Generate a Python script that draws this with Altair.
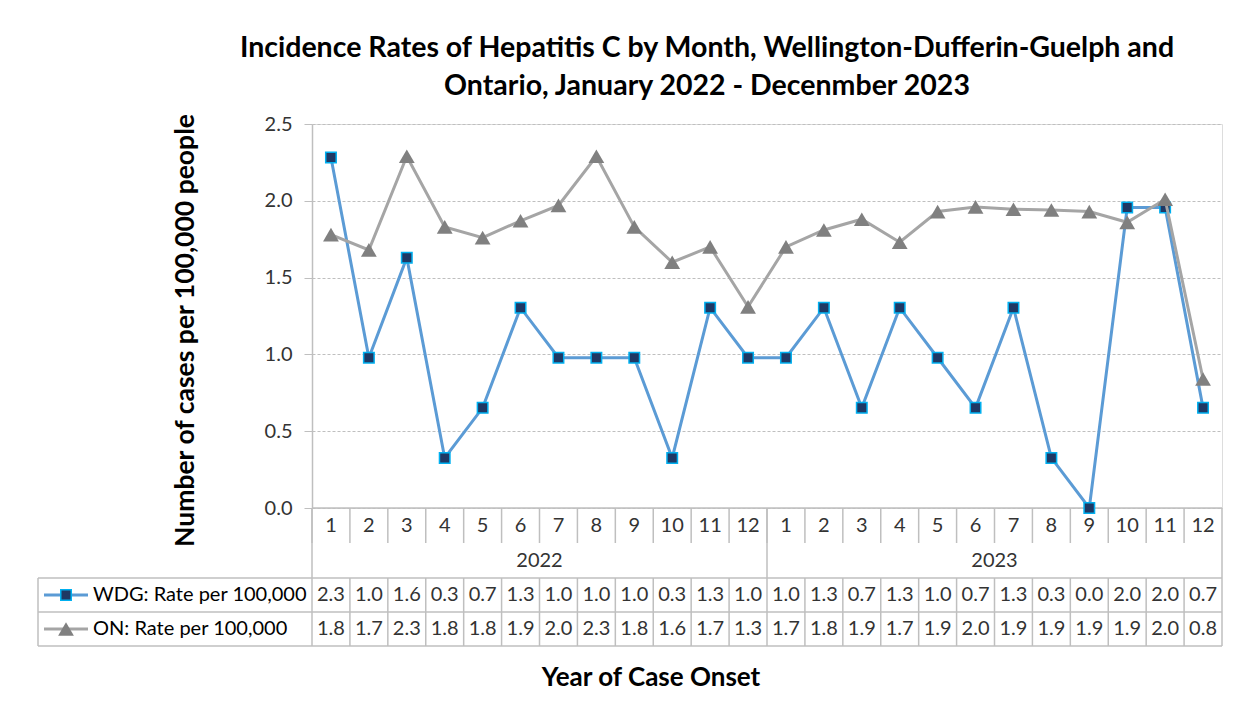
import altair as alt
import pandas as pd

# ---------------- data ----------------
months = [str(m) for m in range(1, 13)] * 2
years = ["2022"] * 12 + ["2023"] * 12
wdg_rate = [2.282, 0.978, 1.630, 0.326, 0.652, 1.304, 0.978, 0.978, 0.978, 0.326, 1.304, 0.978,
            0.978, 1.304, 0.652, 1.304, 0.978, 0.652, 1.304, 0.326, 0.000, 1.956, 1.956, 0.652]
on_rate = [1.78, 1.68, 2.29, 1.83, 1.76, 1.87, 1.97, 2.29, 1.83, 1.60, 1.70, 1.31,
           1.70, 1.81, 1.88, 1.73, 1.93, 1.96, 1.945, 1.94, 1.93, 1.86, 2.01, 0.84]
series_names = ["WDG: Rate per 100,000", "ON: Rate per 100,000"]
year_labels = ["2022", "2023"]
y_ticks = [0.0, 0.5, 1.0, 1.5, 2.0, 2.5]
title_lines = ["Incidence Rates of Hepatitis C by Month, Wellington-Dufferin-Guelph and",
               "Ontario, January 2022 - Decenmber 2023"]
y_title = "Number of cases per 100,000 people"
x_title = "Year of Case Onset"

keys = [f"{y}-{m}" for y, m in zip(years, months)]
df = pd.DataFrame({"key": keys, "month": months, "year": years,
                   "wdg": wdg_rate, "on": on_rate})
# year label sits at the boundary between month 6 and 7; year block starts at month 1
year_df = pd.DataFrame({"year": year_labels,
                        "mid": [f"{y}-7" for y in year_labels],
                        "start": [f"{y}-1" for y in year_labels]})

FONT = "Lato"
W, H = 910, 384
BLUE_LINE = "#5B9BD5"
BLUE_FILL = "#1F3864"
BLUE_EDGE = "#00B0F0"
GREY_LINE = "#A5A5A5"
GREY_FILL = "#808080"
TABLE = "#BFBFBF"
TXT = "#333333"
TS = 20

xscale = alt.Scale(type="band", domain=keys, paddingInner=0, paddingOuter=0)


def X(field, band=0.5):
    return alt.X(f"{field}:N", scale=xscale, axis=None, bandPosition=band)


yscale = alt.Scale(domain=[0, 2.5], nice=False, zero=True)

base = alt.Chart(df)

wdg_line = base.mark_line(color=BLUE_LINE, strokeWidth=3).encode(
    x=X("key"),
    y=alt.Y("wdg:Q", scale=yscale,
            axis=alt.Axis(values=y_ticks, format=".1f", grid=True, gridColor="#BFBFBF",
                          gridDash=[3, 2], gridWidth=1, domainColor="#BFBFBF", domainWidth=1.5,
                          tickColor="#BFBFBF", tickSize=8, tickWidth=1, labelFontSize=TS,
                          labelColor=TXT, labelPadding=12, labelFont=FONT,
                          title=y_title, titleFont=FONT, titleFontSize=26.5,
                          titleFontWeight="bold", titleColor="#000000", titleAngle=-90,
                          titleX=-127, titleY=206, titleAlign="center",
                          titleBaseline="middle")),
)
wdg_pts = base.mark_point(shape="square", filled=True, fill=BLUE_FILL, stroke=BLUE_EDGE,
                          strokeWidth=1.5, size=110, opacity=1).encode(
    x=X("key"), y=alt.Y("wdg:Q", scale=yscale))
on_line = base.mark_line(color=GREY_LINE, strokeWidth=3).encode(
    x=X("key"), y=alt.Y("on:Q", scale=yscale))
on_pts = base.mark_point(shape="triangle-up", filled=True, color=GREY_FILL,
                         size=250, opacity=1).encode(
    x=X("key"), y=alt.Y("on:Q", scale=yscale))


# ---------------- data table under the plot ----------------
def rule_h(y, x1, x2):
    return alt.Chart(df.head(1)).mark_rule(color=TABLE, strokeWidth=1.5).encode(
        x=alt.value(x1), x2=alt.value(x2), y=alt.value(y))


def rule_v(x, y1, y2):
    return alt.Chart(df.head(1)).mark_rule(color=TABLE, strokeWidth=1.5).encode(
        x=alt.value(x), y=alt.value(y1), y2=alt.value(y2))


ROW_M, ROW_Y, ROW_A, ROW_B, ROW_END = 384, 454, 488, 522, 522
LEFT = -274

month_sep = base.mark_rule(color=TABLE, strokeWidth=1.5).encode(
    x=X("key", 0), y=alt.value(ROW_M), y2=alt.value(419))
data_sep = base.mark_rule(color=TABLE, strokeWidth=1.5).encode(
    x=X("key", 0), y=alt.value(ROW_Y), y2=alt.value(ROW_END))
year_sep = alt.Chart(year_df).mark_rule(color=TABLE, strokeWidth=1.5).encode(
    x=X("start", 0), y=alt.value(ROW_M), y2=alt.value(ROW_Y))

month_txt = base.mark_text(font=FONT, fontSize=TS, color=TXT, baseline="middle").encode(
    x=X("key"), y=alt.value(402), text="month:N")
year_txt = alt.Chart(year_df).mark_text(font=FONT, fontSize=TS, color=TXT,
                                        baseline="middle").encode(
    x=X("mid", 0), y=alt.value(437), text="year:N")
wdg_txt = base.mark_text(font=FONT, fontSize=TS, color=TXT, baseline="middle").encode(
    x=X("key"), y=alt.value(471), text=alt.Text("wdg:Q", format=".1f"))
on_txt = base.mark_text(font=FONT, fontSize=TS, color=TXT, baseline="middle").encode(
    x=X("key"), y=alt.value(505), text=alt.Text("on:Q", format=".1f"))

one = alt.Chart(df.head(1))
leg_wdg_line = one.mark_rule(color=BLUE_LINE, strokeWidth=3).encode(
    x=alt.value(-268), x2=alt.value(-224), y=alt.value(471))
leg_wdg_pt = one.mark_point(shape="square", filled=True, fill=BLUE_FILL, stroke=BLUE_EDGE,
                            strokeWidth=1.5, size=110, opacity=1).encode(
    x=alt.value(-246), y=alt.value(471))
leg_on_line = one.mark_rule(color=GREY_LINE, strokeWidth=3).encode(
    x=alt.value(-268), x2=alt.value(-224), y=alt.value(505))
leg_on_pt = one.mark_point(shape="triangle-up", filled=True, color=GREY_FILL,
                           size=250, opacity=1).encode(
    x=alt.value(-246), y=alt.value(505))
leg_wdg_txt = one.mark_text(font=FONT, fontSize=TS, color="#000000", align="left",
                            baseline="middle").encode(
    x=alt.value(-219), y=alt.value(471), text=alt.value(series_names[0]))
leg_on_txt = one.mark_text(font=FONT, fontSize=TS, color="#000000", align="left",
                           baseline="middle").encode(
    x=alt.value(-219), y=alt.value(505), text=alt.value(series_names[1]))

x_title_txt = one.mark_text(font=FONT, fontSize=26, fontWeight="bold", color="#000000",
                            baseline="middle").encode(
    x=alt.value(339), y=alt.value(554), text=alt.value(x_title))

chart = alt.layer(
    rule_h(ROW_M, 0, W), rule_h(ROW_Y, LEFT, W), rule_h(ROW_A, LEFT, W), rule_h(ROW_B, LEFT, W),
    rule_v(W, ROW_M, ROW_END), rule_v(LEFT, ROW_Y, ROW_END),
    month_sep, data_sep, year_sep,
    month_txt, year_txt, wdg_txt, on_txt,
    leg_wdg_line, leg_wdg_pt, leg_on_line, leg_on_pt, leg_wdg_txt, leg_on_txt,
    x_title_txt,
    wdg_line, wdg_pts, on_line, on_pts,
).properties(
    width=W, height=H,
    padding={"left": 304, "top": 116, "right": 17, "bottom": 185},
    autosize=alt.AutoSizeParams(type="none"),
    title=alt.TitleParams(text=title_lines, font=FONT, fontSize=28.5, fontWeight="bold",
                          color="#000000", anchor="middle", dx=-60, offset=12,
                          lineHeight=38),
).configure_view(stroke=None).configure(background="white")

chart.save("out.html", embed_options={"renderer": "svg", "actions": False})
